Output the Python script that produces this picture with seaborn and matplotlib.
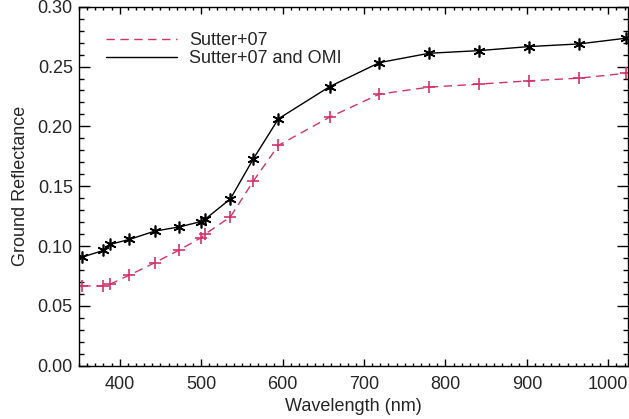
import numpy as np
import pandas as pd
import matplotlib
matplotlib.use("Agg")
import matplotlib.pyplot as plt
from matplotlib.ticker import MultipleLocator
import seaborn as sns

wavelength = [354, 380, 388, 412, 443, 473, 500, 505, 536, 564, 595, 658, 719, 780, 841, 903, 964, 1022]
refl_sutter = [0.0667, 0.0667, 0.0681, 0.0758, 0.0861, 0.0967, 0.1070, 0.1100, 0.1245, 0.1542, 0.1842,
               0.2078, 0.2270, 0.2328, 0.2353, 0.2381, 0.2403, 0.2444]
refl_sutter_omi = [0.0908, 0.0964, 0.1014, 0.1056, 0.1125, 0.1160, 0.1205, 0.1225, 0.1395, 0.1728, 0.2064,
                   0.2333, 0.2533, 0.2611, 0.2633, 0.2667, 0.2689, 0.2737]
series_names = ["Sutter+07", "Sutter+07 and OMI"]

sns.set_theme(style="ticks")
plt.rcParams['font.family'] = ['Liberation Sans', 'DejaVu Sans']

fig = plt.figure(figsize=(6.29, 4.19), dpi=100)
ax = fig.add_axes([0.1256, 0.127, 0.8725, 0.857])

pink = "#d3336a"
sns.lineplot(x=wavelength, y=refl_sutter, ax=ax, color=pink, linestyle=(0, (6, 4)), linewidth=1.0,
             marker="+", markersize=8, markeredgewidth=1.2, markeredgecolor=pink,
             label=series_names[0], sort=False)
sns.lineplot(x=wavelength, y=refl_sutter_omi, ax=ax, color="black", linewidth=1.0,
             marker=(6, 2, 0), markersize=8.5, markeredgewidth=1.2, markeredgecolor="black",
             label=series_names[1], sort=False)

ax.set_xlim(350, 1024)
ax.set_ylim(0.0, 0.30)
ax.xaxis.set_major_locator(MultipleLocator(100))
ax.xaxis.set_minor_locator(MultipleLocator(10))
ax.yaxis.set_major_locator(MultipleLocator(0.05))
ax.yaxis.set_minor_locator(MultipleLocator(0.01))
ax.yaxis.set_major_formatter(matplotlib.ticker.FormatStrFormatter('%.2f'))
ax.tick_params(which='both', direction='in', top=True, right=True, color='black', labelsize=13)
ax.tick_params(axis='x', which='major', length=5, width=1, pad=7.5)
ax.tick_params(axis='x', which='minor', length=2.5, width=1)
ax.tick_params(axis='y', which='major', length=8, width=1, pad=4.5)
ax.tick_params(axis='y', which='minor', length=3.6, width=1)
for s in ax.spines.values():
    s.set_color('black')
    s.set_linewidth(1)
ax.set_xlabel("Wavelength (nm)", fontsize=13, labelpad=3.5)
ax.set_ylabel("Ground Reflectance", fontsize=13, labelpad=6)

leg = ax.legend(loc="upper left", frameon=False, fontsize=13, handlelength=3.9,
                bbox_to_anchor=(0.02, 0.975), labelspacing=0.05, handletextpad=0.7)
for h in leg.legend_handles:
    h.set_marker("")

fig.savefig("out.png", dpi=100)
